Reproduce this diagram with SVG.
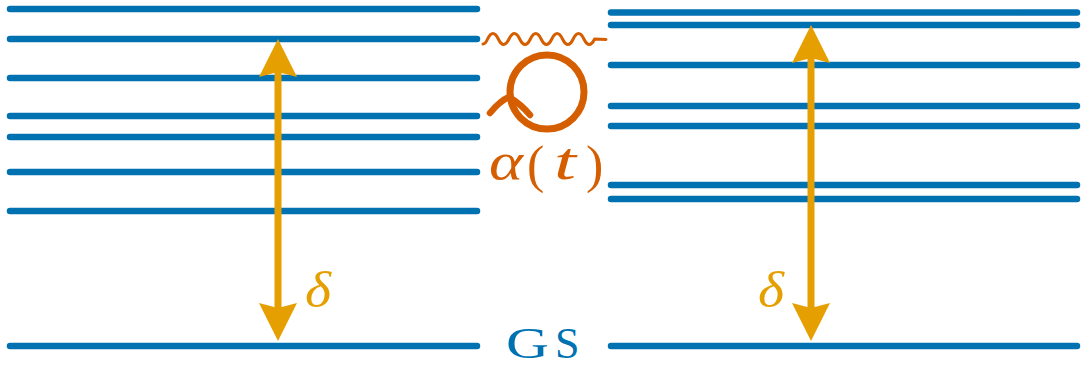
<svg xmlns="http://www.w3.org/2000/svg" width="1092" height="370" viewBox="0 0 1092 370">
<defs>
<style>
.lvl{stroke:#0072B2;stroke-width:6.5;stroke-linecap:round;fill:none}
.arr{stroke:#E69F00;stroke-width:7;fill:none}
.head{fill:#E69F00}
.drive{stroke:#D55E00;fill:none;stroke-linecap:round;stroke-linejoin:round}
.math{font-family:"Liberation Serif","DejaVu Serif",serif;font-style:italic}
.rm{font-family:"Liberation Serif","DejaVu Serif",serif}
</style>
</defs>
<rect width="1092" height="370" fill="#ffffff"/>
<g id="left-levels">
<line class="lvl" x1="10" y1="9" x2="477" y2="9"/>
<line class="lvl" x1="10" y1="39" x2="477" y2="39"/>
<line class="lvl" x1="10" y1="78" x2="477" y2="78"/>
<line class="lvl" x1="10" y1="116" x2="477" y2="116"/>
<line class="lvl" x1="10" y1="137" x2="477" y2="137"/>
<line class="lvl" x1="10" y1="172" x2="477" y2="172"/>
<line class="lvl" x1="10" y1="211" x2="477" y2="211"/>
<line class="lvl" x1="10" y1="346" x2="477" y2="346"/>
</g>
<g id="right-levels">
<line class="lvl" x1="611" y1="12.5" x2="1077" y2="12.5"/>
<line class="lvl" x1="611" y1="25" x2="1077" y2="25"/>
<line class="lvl" x1="611" y1="65" x2="1077" y2="65"/>
<line class="lvl" x1="611" y1="106" x2="1077" y2="106"/>
<line class="lvl" x1="611" y1="126" x2="1077" y2="126"/>
<line class="lvl" x1="611" y1="185" x2="1077" y2="185"/>
<line class="lvl" x1="611" y1="199" x2="1077" y2="199"/>
<line class="lvl" x1="611" y1="346" x2="1077" y2="346"/>
</g>
<g id="connectors">
<g id="delta-left-arrow">
<line class="arr" x1="278" y1="70" x2="278" y2="310"/>
<path class="head" d="M278,39 L297,77 L278,72 L259,77 Z"/>
<path class="head" d="M278,341 L297,303 L278,308 L259,303 Z"/>
</g>
<g id="delta-right-arrow">
<line class="arr" x1="811" y1="56" x2="811" y2="310"/>
<path class="head" d="M811,25 L830,63 L811,58 L792,63 Z"/>
<path class="head" d="M811,341 L830,303 L811,308 L792,303 Z"/>
</g>
<g id="drive">
<path class="drive" stroke-width="3" d="M483,44 Q485.5,44 487.6,39 q5.35,-11 10.7,0 t10.7,0 t10.7,0 t10.7,0 t10.7,0 t10.7,0 t10.7,0 t10.7,0 t10.7,0 t10.7,0 L606,39.5"/>
<circle class="drive" stroke-width="7" cx="547" cy="92" r="37"/>
<path class="drive" stroke-width="6.5" d="M490,113 Q500,101 509,97 Q521,104 530,115"/>
</g>
</g>
<g id="labels">
<text class="math" x="305" y="307" font-size="50" fill="#E69F00" textLength="26" lengthAdjust="spacingAndGlyphs">δ</text>
<text class="math" x="758" y="307" font-size="50" fill="#E69F00" textLength="26" lengthAdjust="spacingAndGlyphs">δ</text>
<g id="alpha-label" fill="#D55E00" font-size="52">
<text class="math" x="489" y="179" textLength="34" lengthAdjust="spacingAndGlyphs">α</text>
<text class="rm" x="527" y="182">(</text>
<text class="math" x="554" y="179" textLength="22" lengthAdjust="spacingAndGlyphs">t</text>
<text class="rm" x="586" y="182">)</text>
</g>
<g id="gs-label" fill="#0072B2" font-size="44">
<text class="rm" x="506" y="358" textLength="43" lengthAdjust="spacingAndGlyphs">G</text>
<text class="rm" x="555" y="358">S</text>
</g>
</g>
</svg>
